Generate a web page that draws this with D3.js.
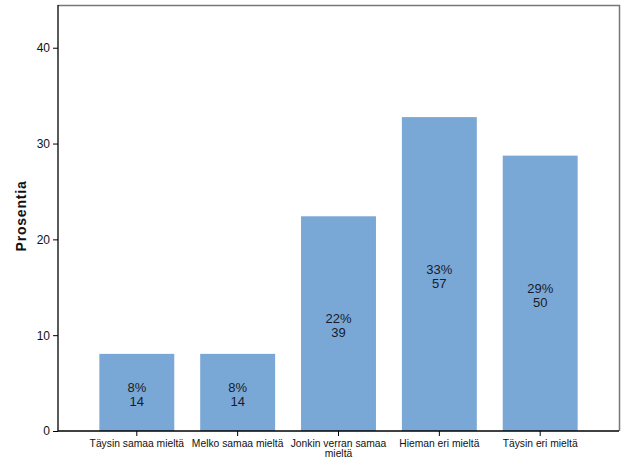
<!DOCTYPE html>
<html><head><meta charset="utf-8">
<script src="https://cdn.jsdelivr.net/npm/d3@7"></script>
<style>body{margin:0;background:#fff}svg{display:block}</style>
</head><body>
<script>
const categories = ["Täysin samaa mieltä","Melko samaa mieltä","Jonkin verran samaa mieltä","Hieman eri mieltä","Täysin eri mieltä"];
const counts = [14, 14, 39, 57, 50];
const percents = [8.05, 8.05, 22.41, 32.76, 28.74];
const pctLabels = ["8%","8%","22%","33%","29%"];
const yTicks = [0, 10, 20, 30, 40];
const yTitle = "Prosentia";

const W = 626, H = 471;
const L = 58, R = 619, T = 5, B = 431;
const svg = d3.select("body").append("svg").attr("width", W).attr("height", H);

const x = d3.scaleBand().domain(categories).range([L, R]).paddingInner(0.257).paddingOuter(0.41);
const y = d3.scaleLinear().domain([0, 44.46]).range([B, T]);

// frame top/right
svg.append("path").attr("d", `M${L},${T+0.5}H${R+0.5}V${B}`).attr("fill","none").attr("stroke","#777").attr("stroke-width",1.5);

svg.selectAll("rect.bar").data(categories).enter().append("rect")
  .attr("x", d => x(d)).attr("width", x.bandwidth())
  .attr("y", (d,i) => y(percents[i])).attr("height", (d,i) => B - y(percents[i]))
  .attr("fill", "#79a8d6");

const lab = svg.selectAll("text.v").data(categories).enter().append("text")
  .attr("text-anchor","middle").attr("font-family","Liberation Sans, Arial, sans-serif").attr("font-size",13).attr("fill","#1a1a2a");
lab.each(function(d,i){
  const cx = x(d) + x.bandwidth()/2;
  const cy = (y(percents[i]) + B)/2;
  const t = d3.select(this);
  t.append("tspan").attr("x",cx).attr("y",cy-0.5).text(pctLabels[i]);
  t.append("tspan").attr("x",cx).attr("y",cy+13.5).text(counts[i]);
});

// y axis
const ya = svg.append("g").attr("transform",`translate(${L},0)`)
  .call(d3.axisLeft(y).tickValues(yTicks).tickSize(5).tickPadding(3).tickFormat(d3.format("d")));
ya.select(".domain").attr("stroke","#000").attr("stroke-width",1.3).attr("d",`M0,${T}V${B}`);
ya.selectAll("text").attr("font-family","Liberation Sans, Arial, sans-serif").attr("font-size",12).attr("fill","#111");

// x axis
const xa = svg.append("g").attr("transform",`translate(0,${B})`)
  .call(d3.axisBottom(x).tickSize(5).tickPadding(4).tickFormat(""));
xa.select(".domain").attr("stroke","#000").attr("stroke-width",1.3).attr("d",`M${L},0H${R}`);

const cl = svg.selectAll("text.c").data(categories).enter().append("text")
  .attr("text-anchor","middle").attr("font-family","Liberation Sans, Arial, sans-serif").attr("font-size",10.3).attr("fill","#111");
cl.each(function(d){
  const cx = x(d) + x.bandwidth()/2;
  const t = d3.select(this);
  if (d === "Jonkin verran samaa mieltä") {
    t.append("tspan").attr("x",cx).attr("y",B+16).text("Jonkin verran samaa");
    t.append("tspan").attr("x",cx).attr("y",B+26).text("mieltä");
  } else {
    t.append("tspan").attr("x",cx).attr("y",B+16).text(d);
  }
});

svg.append("text").attr("transform",`translate(26,216) rotate(-90)`)
  .attr("text-anchor","middle").attr("font-family","Liberation Sans, Arial, sans-serif")
  .attr("font-weight","bold").attr("font-size",14).attr("letter-spacing",0.8).attr("fill","#111").text(yTitle);
</script>
</body></html>
